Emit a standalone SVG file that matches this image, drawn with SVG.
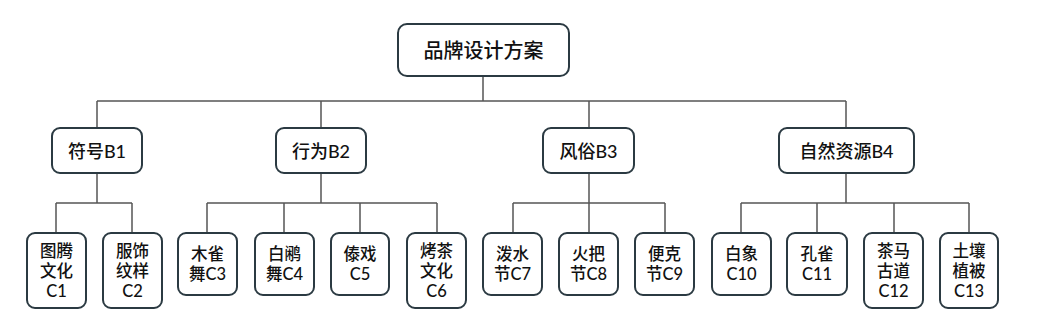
<svg xmlns="http://www.w3.org/2000/svg" width="1041" height="321" viewBox="0 0 1041 321">
<style>
.box{fill:#fff;stroke:#2b3a42;stroke-width:2}
.t{font-family:Lato,"Noto Sans CJK SC",sans-serif;font-weight:500;fill:#111;text-anchor:middle}
.t1{font-size:20px}
.t2{font-size:18px}
.t3{font-size:16.5px}
.c{stroke:#555;stroke-width:1.5;fill:none}
</style>
<rect width="1041" height="321" fill="#fff"/>
<g id="connectors">
<path class="c" d="M483 76V101M97 101H846M97 101V128M321 101V128M589 101V128M846 101V128"/>
<path class="c" d="M97 173V203M56 203H132M56 203V233M132 203V233"/>
<path class="c" d="M321 173V203M207 203H437M207 203V233M284 203V233M360 203V233M437 203V233"/>
<path class="c" d="M589 173V203M513 203H665M513 203V233M589 203V233M665 203V233"/>
<path class="c" d="M846 173V203M741 203H969M741 203V233M817 203V233M894 203V233M969 203V233"/>
</g>
<g id="root"><rect class="box" x="398" y="24" width="171" height="52" rx="9"/><text class="t t1" x="483.5" y="58">品牌设计方案</text></g>
<g id="B1"><rect class="box" x="52" y="128" width="90" height="45" rx="8"/><text class="t t2" x="97" y="157.5">符号B1</text></g>
<g id="B2"><rect class="box" x="276" y="128" width="90" height="45" rx="8"/><text class="t t2" x="321" y="157.5">行为B2</text></g>
<g id="B3"><rect class="box" x="543" y="128" width="91" height="45" rx="8"/><text class="t t2" x="588.5" y="157.5">风俗B3</text></g>
<g id="B4"><rect class="box" x="779" y="128" width="135" height="45" rx="8"/><text class="t t2" x="846.5" y="157.5">自然资源B4</text></g>
<g id="C1"><rect class="box" x="27" y="233" width="59" height="75" rx="8"/><text class="t t3" x="56.5" y="257"><tspan x="56.5">图腾</tspan><tspan x="56.5" dy="20">文化</tspan><tspan x="56.5" dy="20">C1</tspan></text></g>
<g id="C2"><rect class="box" x="103" y="233" width="59" height="75" rx="8"/><text class="t t3" x="132.5" y="257"><tspan x="132.5">服饰</tspan><tspan x="132.5" dy="20">纹样</tspan><tspan x="132.5" dy="20">C2</tspan></text></g>
<g id="C3"><rect class="box" x="178" y="233" width="59" height="62" rx="8"/><text class="t t3" x="207.5" y="260"><tspan x="207.5">木雀</tspan><tspan x="207.5" dy="20">舞C3</tspan></text></g>
<g id="C4"><rect class="box" x="255" y="233" width="59" height="62" rx="8"/><text class="t t3" x="284.5" y="260"><tspan x="284.5">白鹇</tspan><tspan x="284.5" dy="20">舞C4</tspan></text></g>
<g id="C5"><rect class="box" x="331" y="233" width="58" height="62" rx="8"/><text class="t t3" x="360" y="260"><tspan x="360">傣戏</tspan><tspan x="360" dy="20">C5</tspan></text></g>
<g id="C6"><rect class="box" x="407" y="233" width="59" height="75" rx="8"/><text class="t t3" x="436.5" y="257"><tspan x="436.5">烤茶</tspan><tspan x="436.5" dy="20">文化</tspan><tspan x="436.5" dy="20">C6</tspan></text></g>
<g id="C7"><rect class="box" x="483" y="233" width="59" height="62" rx="8"/><text class="t t3" x="512.5" y="260"><tspan x="512.5">泼水</tspan><tspan x="512.5" dy="20">节C7</tspan></text></g>
<g id="C8"><rect class="box" x="559" y="233" width="59" height="62" rx="8"/><text class="t t3" x="588.5" y="260"><tspan x="588.5">火把</tspan><tspan x="588.5" dy="20">节C8</tspan></text></g>
<g id="C9"><rect class="box" x="635" y="233" width="59" height="62" rx="8"/><text class="t t3" x="664.5" y="260"><tspan x="664.5">便克</tspan><tspan x="664.5" dy="20">节C9</tspan></text></g>
<g id="C10"><rect class="box" x="712" y="233" width="59" height="62" rx="8"/><text class="t t3" x="741.5" y="260"><tspan x="741.5">白象</tspan><tspan x="741.5" dy="20">C10</tspan></text></g>
<g id="C11"><rect class="box" x="787" y="233" width="60" height="62" rx="8"/><text class="t t3" x="817" y="260"><tspan x="817">孔雀</tspan><tspan x="817" dy="20">C11</tspan></text></g>
<g id="C12"><rect class="box" x="864" y="233" width="59" height="75" rx="8"/><text class="t t3" x="893.5" y="257"><tspan x="893.5">茶马</tspan><tspan x="893.5" dy="20">古道</tspan><tspan x="893.5" dy="20">C12</tspan></text></g>
<g id="C13"><rect class="box" x="940" y="233" width="58" height="75" rx="8"/><text class="t t3" x="969" y="257"><tspan x="969">土壤</tspan><tspan x="969" dy="20">植被</tspan><tspan x="969" dy="20">C13</tspan></text></g>
</svg>
